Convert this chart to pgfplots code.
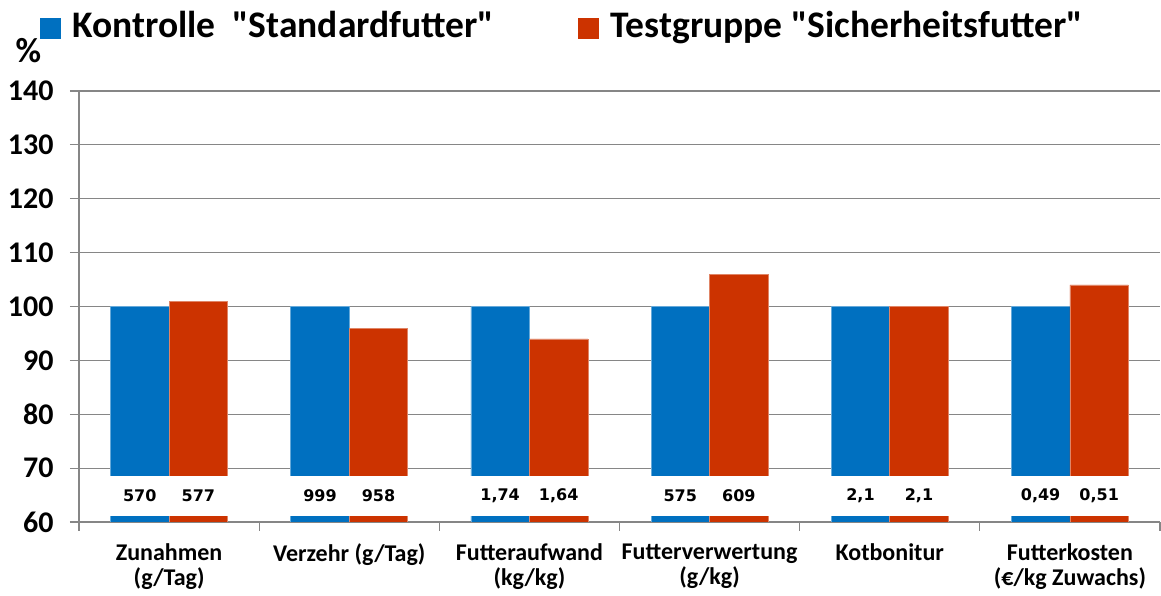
\documentclass[border=0pt]{standalone}
\usepackage{fontspec}
\setmainfont{Carlito}
\newfontfamily\dvs{DejaVu Sans}
\usepackage{pgfplots}
\pgfplotsset{compat=1.18}
\definecolor{barblue}{RGB}{0,112,192}
\definecolor{barred}{RGB}{204,51,0}
\definecolor{axgray}{RGB}{134,134,134}
\begin{document}
\begin{tikzpicture}
\path[use as bounding box] (-79pt,-74pt) rectangle (1082pt,522pt);
\begin{axis}[
  at={(0pt,0pt)}, anchor=south west,
  scale only axis, width=1081pt, height=431pt,
  xmin=-0.5, xmax=5.5, ymin=60, ymax=140,
  ytick={60,70,...,140},
  ymajorgrids, grid style={axgray, line width=1.2pt},
  axis x line*=bottom, axis y line*=left,
  axis line style={axgray, line width=1.2pt},
  tick align=outside,
  major tick length=9pt,
  tick style={axgray, line width=1.2pt},
  xtick={-0.5,0.5,1.5,2.5,3.5,4.5,5.5},
  xticklabels={Zunahmen\\(g/Tag), Verzehr (g/Tag), Futteraufwand\\(kg/kg), Futterverwertung\\(g/kg), Kotbonitur, Futterkosten\\(€/kg Zuwachs), {}},
  xticklabel style={xshift=90.08pt, align=center, anchor=north, yshift=-9pt,
    font=\fontsize{24}{25}\selectfont\bfseries},
  yticklabel style={font=\fontsize{30}{32}\selectfont\bfseries, xshift=-13pt},
  /pgf/number format/assume math mode=true,
  legend style={at={(-0.03608,1.186)}, anchor=north west, draw=none, fill=none,
    inner sep=0pt, outer sep=0pt, legend columns=2,
    font=\fontsize{37.5}{40}\selectfont\bfseries,
    nodes={inner sep=0pt},
    /tikz/every even column/.append style={column sep=84pt}},
  legend cell align=left,
  legend image code/.code={\fill[#1,draw=none] (0pt,-14pt) rectangle (21pt,7pt); \path (32pt,0pt);},
]
\addplot[ybar, bar width=58.5pt, bar shift=-29.25pt, fill=barblue, draw=barblue!60!white, line width=0.6pt]
  table {
  x y
  0 100
  1 100
  2 100
  3 100
  4 100
  5 100
  };
\addlegendentry{Kontrolle\ \ \textquotedbl Standardfutter\textquotedbl}
\addplot[ybar, bar width=58.5pt, bar shift=29.25pt, fill=barred, draw=barred!60!white, line width=0.6pt]
  table {
  x y
  0 101
  1 96
  2 94
  3 106
  4 100
  5 104
  };
\addlegendentry{Testgruppe \textquotedbl Sicherheitsfutter\textquotedbl}
\addplot[forget plot, draw=none, mark=none, nodes near coords, point meta=explicit symbolic,
  nodes near coords style={anchor=center, fill=white, inner sep=0pt, minimum width=61pt,
    minimum height=39.5pt, text=black, font=\fontsize{16}{17}\selectfont\dvs\bfseries}]
  table[meta=lab] {
  x y lab
  -0.1625 64.85 570
  0.8375 64.85 999
  1.8375 64.85 1,74
  2.8375 64.85 575
  3.8375 64.85 2,1
  4.8375 64.85 0,49
  };
\addplot[forget plot, draw=none, mark=none, nodes near coords, point meta=explicit symbolic,
  nodes near coords style={anchor=center, fill=white, inner sep=0pt, minimum width=61pt,
    minimum height=39.5pt, text=black, font=\fontsize{16}{17}\selectfont\dvs\bfseries}]
  table[meta=lab] {
  x y lab
  0.1625 64.85 577
  1.1625 64.85 958
  2.1625 64.85 1,64
  3.1625 64.85 609
  4.1625 64.85 2,1
  5.1625 64.85 0,51
  };
\end{axis}
\node[font=\fontsize{35}{37}\selectfont\bfseries] at (-50.5pt,471pt) {\%};
\end{tikzpicture}
\end{document}
